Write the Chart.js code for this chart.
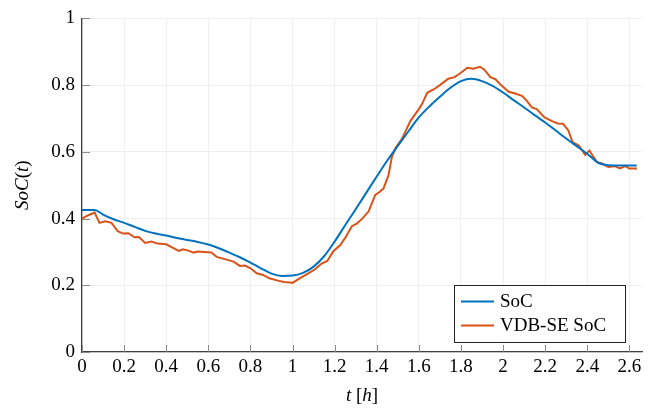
<!DOCTYPE html>
<html>
<head>
<meta charset="utf-8">
<script src="https://cdn.jsdelivr.net/npm/chart.js@4.4.1/dist/chart.umd.min.js"></script>
<style>
  html, body { margin: 0; padding: 0; background: #fff; }
  #wrap { width: 656px; height: 410px; }
</style>
</head>
<body>
<div id="wrap"><canvas id="soc-chart"></canvas></div>
<script>
// SoC (reference) - time in hours and state of charge
var socTime = [0, 0.06, 0.1, 0.15, 0.2, 0.25, 0.3, 0.35, 0.4, 0.45, 0.5, 0.55, 0.6, 0.65, 0.7, 0.75,
    0.8, 0.85, 0.9, 0.95, 1.0, 1.05, 1.1, 1.15, 1.2, 1.25, 1.3, 1.35, 1.4, 1.45, 1.5, 1.55, 1.6,
    1.65, 1.7, 1.75, 1.8, 1.85, 1.9, 1.95, 2.0, 2.05, 2.1, 2.15, 2.2, 2.25, 2.3, 2.35, 2.4, 2.45,
    2.5, 2.55, 2.6, 2.635];
var socValues = [0.426, 0.426, 0.412, 0.398, 0.387, 0.375, 0.363, 0.355, 0.349, 0.342, 0.336, 0.330,
    0.322, 0.311, 0.298, 0.284, 0.268, 0.251, 0.235, 0.228, 0.229, 0.237, 0.256, 0.287, 0.331,
    0.38, 0.428, 0.477, 0.526, 0.574, 0.618, 0.661, 0.703, 0.736, 0.765, 0.792, 0.812, 0.819,
    0.812, 0.798, 0.778, 0.755, 0.733, 0.71, 0.688, 0.664, 0.64, 0.617, 0.594, 0.568, 0.56,
    0.559, 0.559, 0.559];

// VDB-SE estimate
var vdbTime = [0, 0.03, 0.06, 0.083, 0.11, 0.14, 0.17, 0.195, 0.22, 0.25, 0.27, 0.3, 0.33, 0.36,
    0.4, 0.43, 0.46, 0.48, 0.505, 0.53, 0.55, 0.6, 0.615, 0.64, 0.67, 0.72, 0.75, 0.775, 0.8,
    0.83, 0.86, 0.89, 0.93, 0.96, 0.99, 1.0, 1.03, 1.067, 1.107, 1.138, 1.165, 1.195, 1.226,
    1.25, 1.282, 1.305, 1.33, 1.361, 1.393, 1.41, 1.432, 1.456, 1.472, 1.49, 1.52, 1.56, 1.6,
    1.615, 1.64, 1.67, 1.7, 1.74, 1.77, 1.8, 1.83, 1.86, 1.89, 1.91, 1.94, 1.965, 1.99, 2.027,
    2.058, 2.09, 2.113, 2.137, 2.16, 2.197, 2.23, 2.26, 2.285, 2.31, 2.33, 2.36, 2.39, 2.41,
    2.445, 2.47, 2.5, 2.53, 2.555, 2.58, 2.6, 2.636];
var vdbValues = [0.40, 0.41, 0.418, 0.387, 0.392, 0.387, 0.362, 0.355, 0.356, 0.344, 0.345, 0.327,
    0.331, 0.325, 0.323, 0.313, 0.303, 0.308, 0.304, 0.298, 0.301, 0.299, 0.298, 0.285, 0.28,
    0.271, 0.258, 0.259, 0.251, 0.236, 0.231, 0.221, 0.214, 0.21, 0.208, 0.207, 0.219, 0.233,
    0.248, 0.265, 0.273, 0.303, 0.32, 0.342, 0.377, 0.385, 0.399, 0.421, 0.471, 0.478, 0.49,
    0.53, 0.585, 0.612, 0.639, 0.693, 0.728, 0.743, 0.777, 0.787, 0.8, 0.819, 0.824, 0.837,
    0.852, 0.849, 0.855, 0.847, 0.824, 0.817, 0.80, 0.78, 0.775, 0.768, 0.753, 0.733, 0.728,
    0.703, 0.693, 0.685, 0.684, 0.664, 0.629, 0.619, 0.591, 0.604, 0.57, 0.565, 0.555, 0.557,
    0.55, 0.557, 0.55, 0.55];

var seriesLabels = ['SoC', 'VDB-SE SoC'];
var xTicks = [0, 0.2, 0.4, 0.6, 0.8, 1, 1.2, 1.4, 1.6, 1.8, 2, 2.2, 2.4, 2.6];
var yTicks = [0, 0.2, 0.4, 0.6, 0.8, 1];

// axis titles as [text, italic] pieces, like latex math
var xTitle = [['t', true], [' [', false], ['h', true], [']', false]];
var yTitle = [['SoC', true], ['(', false], ['t', true], [')', false]];

var blue = '#0072BD';
var orange = '#D95319';
var serif = '"Liberation Serif", "DejaVu Serif", serif';
var fontSize = 19;

function toPoints(xs, ys) {
    return xs.map(function (x, i) { return { x: x, y: ys[i] }; });
}

function fmt(v) {
    return String(Math.round(v * 10) / 10);
}

function drawPieces(ctx, pieces, cx, cy) {
    var total = 0;
    pieces.forEach(function (p) {
        ctx.font = (p[1] ? 'italic ' : '') + fontSize + 'px ' + serif;
        total += ctx.measureText(p[0]).width;
    });
    var x = cx - total / 2;
    pieces.forEach(function (p) {
        ctx.font = (p[1] ? 'italic ' : '') + fontSize + 'px ' + serif;
        ctx.fillText(p[0], x, cy);
        x += ctx.measureText(p[0]).width;
    });
}

// pgfplots style ticks drawn inside the axes
var innerTicks = {
    id: 'innerTicks',
    beforeDatasetsDraw: function (chart) {
        var ctx = chart.ctx, a = chart.chartArea;
        var xs = chart.scales.x, ys = chart.scales.y;
        ctx.save();
        ctx.strokeStyle = '#8a8a8a';
        ctx.lineWidth = 1;
        ctx.beginPath();
        xTicks.forEach(function (t) {
            var px = Math.round(xs.getPixelForValue(t)) + 0.5;
            ctx.moveTo(px, a.bottom);
            ctx.lineTo(px, a.bottom - 7);
        });
        yTicks.forEach(function (t) {
            var py = Math.round(ys.getPixelForValue(t)) + 0.5;
            ctx.moveTo(a.left, py);
            ctx.lineTo(a.left + 8, py);
        });
        ctx.stroke();
        ctx.restore();
    }
};

// axis titles with mixed italic / upright parts
var axisTitles = {
    id: 'axisTitles',
    afterDraw: function (chart) {
        var ctx = chart.ctx, a = chart.chartArea;
        ctx.save();
        ctx.fillStyle = '#000';
        ctx.textBaseline = 'middle';
        drawPieces(ctx, xTitle, (a.left + a.right) / 2, 396);
        ctx.translate(23, (a.top + a.bottom) / 2);
        ctx.rotate(-Math.PI / 2);
        drawPieces(ctx, yTitle, 0, 0);
        ctx.restore();
    }
};

// legend box inside the plot, lower right
var boxLegend = {
    id: 'boxLegend',
    afterDraw: function (chart) {
        var ctx = chart.ctx, a = chart.chartArea;
        var w = 171, h = 57;
        var x0 = a.right - 17 - w, y0 = a.bottom - 10 - h;
        ctx.save();
        ctx.fillStyle = '#fff';
        ctx.fillRect(x0, y0, w, h);
        ctx.strokeStyle = '#262626';
        ctx.lineWidth = 1;
        ctx.strokeRect(Math.round(x0) + 0.5, Math.round(y0) + 0.5, w, h);
        ctx.font = fontSize + 'px ' + serif;
        ctx.textBaseline = 'middle';
        chart.data.datasets.forEach(function (ds, i) {
            var cy = y0 + 16.5 + i * 24;
            ctx.strokeStyle = ds.borderColor;
            ctx.lineWidth = 2;
            ctx.beginPath();
            ctx.moveTo(x0 + 7, cy);
            ctx.lineTo(x0 + 40, cy);
            ctx.stroke();
            ctx.fillStyle = '#000';
            ctx.fillText(ds.label, x0 + 46, cy + 1);
        });
        ctx.restore();
    }
};

new Chart(document.getElementById('soc-chart').getContext('2d'), {
    type: 'line',
    data: {
        datasets: [
            {
                label: seriesLabels[0],
                data: toPoints(socTime, socValues),
                borderColor: blue,
                backgroundColor: blue,
                borderWidth: 2,
                pointRadius: 0,
                cubicInterpolationMode: 'monotone',
                fill: false
            },
            {
                label: seriesLabels[1],
                data: toPoints(vdbTime, vdbValues),
                borderColor: orange,
                backgroundColor: orange,
                borderWidth: 2,
                pointRadius: 0,
                tension: 0,
                fill: false
            }
        ]
    },
    options: {
        responsive: true,
        maintainAspectRatio: false,
        animation: false,
        events: [],
        layout: { padding: { top: 15, right: 14, left: 0, bottom: 0 } },
        plugins: {
            legend: { display: false },
            tooltip: { enabled: false }
        },
        scales: {
            x: {
                type: 'linear',
                min: 0,
                max: 2.66,
                afterFit: function (scale) { scale.height = 58; },
                afterBuildTicks: function (scale) {
                    scale.ticks = xTicks.map(function (v) { return { value: v }; });
                },
                ticks: {
                    color: '#000',
                    font: { family: serif, size: fontSize },
                    padding: 4,
                    maxRotation: 0,
                    autoSkip: false,
                    callback: function (v) { return fmt(v); }
                },
                grid: { color: '#efefef', drawTicks: false, lineWidth: 1 },
                border: { color: '#404040', width: 1.3 },
                title: { display: false }
            },
            y: {
                type: 'linear',
                min: 0,
                max: 1,
                afterFit: function (scale) { scale.width = 82; },
                afterBuildTicks: function (scale) {
                    scale.ticks = yTicks.map(function (v) { return { value: v }; });
                },
                ticks: {
                    color: '#000',
                    font: { family: serif, size: fontSize },
                    padding: 7,
                    callback: function (v) { return fmt(v); }
                },
                grid: { color: '#efefef', drawTicks: false, lineWidth: 1 },
                border: { color: '#404040', width: 1.3 },
                title: { display: false }
            }
        }
    },
    plugins: [innerTicks, axisTitles, boxLegend]
});
</script>
</body>
</html>
